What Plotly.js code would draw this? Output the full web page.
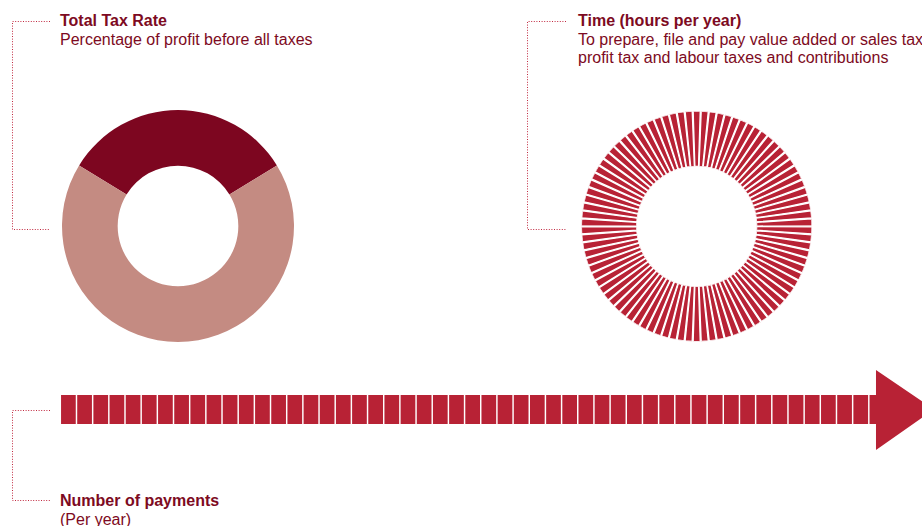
<!DOCTYPE html>
<html>
<head>
<meta charset="utf-8">
<script src="https://cdn.plot.ly/plotly-3.0.1.min.js"></script>
<style>
html,body{margin:0;padding:0;background:#ffffff;}
#chart{width:922px;height:526px;}
</style>
</head>
<body>
<div id="chart"></div>
<script>
// ---- data ----
const taxRateLabels = ['Total Tax Rate', 'Remaining profit'];
const taxRateValues = [32.5, 67.5];
const timeSpokeCount = 90;      // one spoke per unit of time shown in the ring
const paymentCount = 50;        // one block per payment in the arrow
const titleTexts = {
  ttr: 'Total Tax Rate',
  ttrSub: 'Percentage of profit before all taxes',
  time: 'Time (hours per year)',
  timeSub1: 'To prepare, file and pay value added or sales tax,',
  timeSub2: 'profit tax and labour taxes and contributions',
  pay: 'Number of payments',
  paySub: '(Per year)'
};

// ---- styling / layout helpers ----
const W = 922, H = 526;
const px = x => x / W;
const py = y => 1 - y / H;
const DARK = '#7d0620';
const LIGHT = '#c48b82';
const RED = '#b82235';
const TXT = '#7d0a22';
const FONT = 'Liberation Sans, Arial, Helvetica, sans-serif';

// spokes built from count
const spokeTheta = [], spokeR = [];
for (let i = 0; i < timeSpokeCount; i++) { spokeTheta.push(i * 360 / timeSpokeCount); spokeR.push(1); }
// payment blocks built from count
const payX = [], payY = [];
for (let i = 1; i <= paymentCount; i++) { payX.push(i); payY.push(1); }

const barGap = 0.09;
const pitch = 16.17, firstCenterPx = 68.4;
const xRange = [1 - firstCenterPx / pitch, 1 + (W - firstCenterPx) / pitch];

const traces = [
  {
    type: 'pie',
    labels: taxRateLabels,
    values: taxRateValues,
    sort: false,
    direction: 'clockwise',
    rotation: -taxRateValues[0] / 100 * 180,
    hole: 0.52,
    marker: {colors: [DARK, LIGHT], line: {width: 0}},
    textinfo: 'none',
    hoverinfo: 'label+value',
    showlegend: false,
    domain: {x: [px(62), px(294)], y: [py(342), py(110)]}
  },
  {
    type: 'barpolar',
    theta: spokeTheta,
    r: spokeR,
    marker: {color: RED, line: {color: '#ffffff', width: 1.3}},
    hoverinfo: 'skip',
    showlegend: false,
    subplot: 'polar'
  },
  {
    type: 'bar',
    x: payX,
    y: payY,
    marker: {color: RED, line: {width: 0}},
    hoverinfo: 'skip',
    showlegend: false,
    xaxis: 'x', yaxis: 'y'
  }
];

const N = paymentCount;
const headPath = 'M ' + (N + 0.5 + barGap / 2) + ' 0 L ' + (N + 0.944) + ' 0 L ' + (N + 0.944) + ' -0.897 L ' +
  (N + 4.53) + ' 0.5 L ' + (N + 0.944) + ' 1.862 L ' + (N + 0.944) + ' 1 L ' + (N + 0.5 + barGap / 2) + ' 1 Z';

function bracket(x0, x1, yTop, yBot) {
  return {
    type: 'path', xref: 'paper', yref: 'paper',
    path: 'M ' + px(x1) + ' ' + py(yTop) + ' L ' + px(x0) + ' ' + py(yTop) + ' L ' + px(x0) + ' ' + py(yBot) + ' L ' + px(x1) + ' ' + py(yBot),
    line: {color: '#c0283f', width: 1, dash: '1px,1.6px'}
  };
}

function ann(text, x, y, bold, size) {
  return {
    text: bold ? '<b>' + text + '</b>' : text,
    xref: 'paper', yref: 'paper', x: px(x), y: py(y),
    xanchor: 'left', yanchor: 'middle', showarrow: false, align: 'left',
    font: {family: FONT, size: size || 16, color: TXT}
  };
}

const layout = {
  width: W, height: H,
  margin: {l: 0, r: 0, t: 0, b: 0, pad: 0},
  paper_bgcolor: '#ffffff', plot_bgcolor: 'rgba(0,0,0,0)',
  font: {family: FONT},
  showlegend: false,
  bargap: barGap,
  xaxis: {domain: [0, 1], range: xRange, visible: false, fixedrange: true},
  yaxis: {domain: [py(460), py(360)], range: [-1.2414, 2.2069], visible: false, fixedrange: true},
  polar: {
    domain: {x: [px(581.4), px(812)], y: [py(341.6), py(111)]},
    hole: 0.52,
    bargap: 0.12,
    bgcolor: 'rgba(0,0,0,0)',
    radialaxis: {range: [0, 1], visible: false, showgrid: false, showline: false, ticks: ''},
    angularaxis: {visible: false, direction: 'clockwise', rotation: 90, showgrid: false, showline: false, ticks: ''}
  },
  shapes: [
    bracket(12.5, 50, 21.5, 229.5),
    bracket(527.5, 566, 21.5, 229.5),
    bracket(12.5, 50, 410.5, 500.5),
    {type: 'path', xref: 'x', yref: 'y', path: headPath, fillcolor: RED, line: {width: 0}, layer: 'above'}
  ],
  annotations: [
    ann(titleTexts.ttr, 58, 20.5, true),
    ann(titleTexts.ttrSub, 58, 39.5, false),
    ann(titleTexts.time, 576, 20.5, true),
    ann(titleTexts.timeSub1, 576, 39.5, false),
    ann(titleTexts.timeSub2, 576, 57.5, false),
    ann(titleTexts.pay, 58, 500, true),
    ann(titleTexts.paySub, 58, 519, false)
  ]
};

Plotly.newPlot('chart', traces, layout, {displayModeBar: false, staticPlot: true});
</script>
</body>
</html>
